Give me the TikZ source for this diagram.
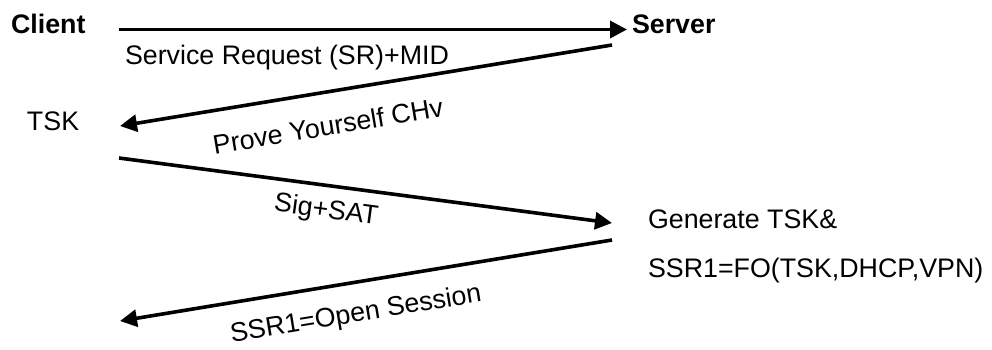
\documentclass[tikz,border=0pt]{standalone}
\usepackage{fontspec}
\setmainfont{Liberation Sans}
\usetikzlibrary{arrows.meta}
\tikzset{
  txt/.style={inner sep=0pt, outer sep=0pt, font=\fontsize{26.8}{32}\selectfont},
  btxt/.style={txt, font=\fontsize{26.8}{32}\selectfont\bfseries},
  msg/.style={line width=3.6pt, -{Triangle[length=17pt,width=17pt]}},
}
\begin{document}
\begin{tikzpicture}[x=1pt,y=-1pt]
\useasboundingbox (0,0) rectangle (992,349);
% participants and notes
\node[btxt, anchor=base west] (client) at (11,33.3) {Client};
\node[btxt, anchor=base west] (server) at (632,33.3) {Server};
\node[txt, anchor=base west] (tsk) at (27,130.5) {TSK};
\node[txt, anchor=base west] (gen) at (648,228.3) {Generate TSK\&};
\node[txt, anchor=base west] (ssr) at (648,277) {SSR1=FO(TSK,DHCP,VPN)};
% arrow end points
\coordinate (a1s) at (119,29.5);
\coordinate (a1e) at (627,29.5);
\coordinate (a2s) at (612,45);
\coordinate (a2e) at (120,126);
\coordinate (a3s) at (119,158);
\coordinate (a3e) at (612,223);
\coordinate (a4s) at (612,240);
\coordinate (a4e) at (120,321);
% messages
\draw[msg] (a1s) -- (a1e);
\draw[msg] (a2s) -- (a2e);
\draw[msg] (a3s) -- (a3e);
\draw[msg] (a4s) -- (a4e);
% labels
\node[txt, anchor=base west] (l1) at (125,64.5) {Service Request (SR)+MID};
\node[txt, rotate=9.46] (l2) at (328,126) {Prove Yourself CHv};
\node[txt, rotate=-7.64] (l3) at (326,211) {Sig+SAT};
\node[txt, rotate=9.35] (l4) at (356,315) {SSR1=Open Session};
\end{tikzpicture}
\end{document}
